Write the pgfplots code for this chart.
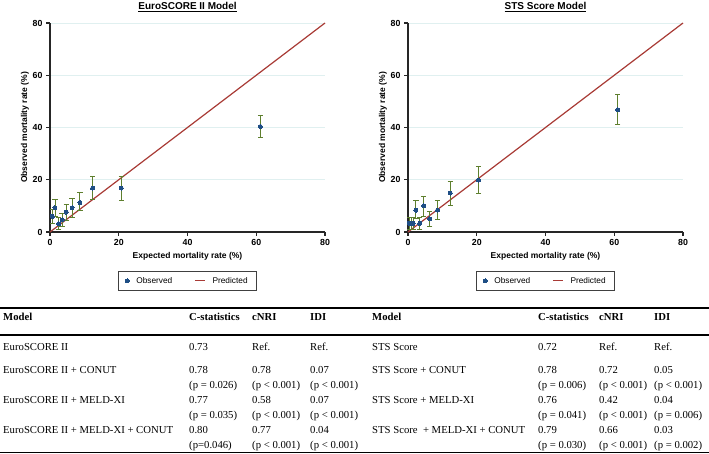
\documentclass[border=0pt]{standalone}
\usepackage{pgfplots}
\pgfplotsset{compat=1.18}
\usepackage{pgfplotstable}
\usepackage{fontspec}
\setmainfont{Liberation Serif}
\setsansfont{Liberation Sans}
\definecolor{obsblue}{HTML}{1F4E85}
\definecolor{predred}{HTML}{A83A35}
\definecolor{errgreen}{HTML}{5E7F2E}
\definecolor{gridc}{HTML}{E0F0F0}

\pgfplotstableread{
x y ep em
0.7 6.0 2.8 2.8
1.45 9.2 3.4 3.2
2.5 3.1 2.3 2.0
3.5 4.6 2.4 2.6
4.75 7.6 3.1 3.3
6.4 9.2 3.5 3.5
8.7 11.3 3.9 3.0
12.4 16.8 4.6 4.4
20.75 16.8 4.3 4.7
61.2 40.4 4.3 4.2
}\euro

\pgfplotstableread{
x y ep em
0.4 3.3 2.2 2.3
1.0 3.3 2.2 2.3
1.5 3.3 2.2 2.3
2.3 8.3 3.6 3.3
3.4 3.3 2.4 2.3
4.6 10.0 3.7 4.2
6.3 5.0 2.7 3.0
8.6 8.4 3.5 3.7
12.3 14.9 4.6 4.7
20.5 19.9 5.1 5.2
61.0 46.8 5.7 5.8
}\sts

\pgfplotsset{calib/.style={
  scale only axis, width=275pt, height=209pt,
  xmin=0, xmax=80, ymin=0, ymax=80,
  axis x line=bottom, axis y line=left,
  axis line style={-, line width=1.5pt, black!85},
  xtick={0,20,40,60,80}, ytick={0,20,40,60,80},
  minor tick num=0,
  tick align=outside, major tick length=4pt,
  tick style={line width=1.2pt, black!85},
  /pgf/number format/assume math mode=true,
  ticklabel style={font=\sffamily\bfseries\fontsize{8.8}{10}\selectfont},
  ymajorgrids, major grid style={gridc, line width=0.7pt},
  clip=false,
  xlabel={Expected mortality rate (\%)},
  ylabel={Observed mortality rate (\%)},
  label style={font=\sffamily\bfseries\fontsize{8.5}{10}\selectfont},
  x label style={at={(axis description cs:0.5,0)}, anchor=center, yshift=-24pt},
  y label style={at={(axis description cs:-0.091,0.5)}, anchor=center},
  legend columns=2,
  legend style={at={(axis description cs:0.5,-0.234)}, anchor=center,
    draw=black!75, line width=0.8pt, font=\sffamily\fontsize{8.3}{10}\selectfont,
    inner xsep=7pt, inner ysep=3.5pt,
    /tikz/every odd column/.append style={column sep=5pt},
    /tikz/every even column/.append style={column sep=20pt}},
},
obs/.style={only marks, mark=*, mark size=2pt, mark options={obsblue, fill=obsblue, line width=0pt},
    error bars/.cd, y dir=both, y explicit,
    error bar style={errgreen, line width=0.9pt},
    error mark options={errgreen, line width=0.9pt, mark size=2.6pt, rotate=90}},
}
\tikzset{
  tb/.style={anchor=base west, inner sep=0pt, font=\fontsize{10.7}{12}\selectfont},
  th/.style={anchor=base west, inner sep=0pt, font=\bfseries\fontsize{10.7}{12}\selectfont},
  ttl/.style={anchor=center, inner sep=0pt, font=\sffamily\bfseries\fontsize{10}{12}\selectfont},
}

\begin{document}
\begin{tikzpicture}[x=1pt,y=1pt]
\useasboundingbox (0,0) rectangle (709,454);

\begin{axis}[calib, at={(50pt,222pt)}, anchor=south west]
\addplot[predred, line width=1.2pt, forget plot] coordinates {(0,0) (80,80)};
\addplot[obs] table[x=x, y=y, y error plus=ep, y error minus=em] {\euro};
\addlegendentry{Observed}
\addlegendimage{legend image code/.code={\draw[predred, line width=1.2pt] (0pt,0pt) -- (10pt,0pt);}}
\addlegendentry{Predicted}
\end{axis}

\begin{axis}[calib, at={(408pt,222pt)}, anchor=south west]
\addplot[predred, line width=1.2pt, forget plot] coordinates {(0,0) (80,80)};
\addplot[obs] table[x=x, y=y, y error plus=ep, y error minus=em] {\sts};
\addlegendentry{Observed}
\addlegendimage{legend image code/.code={\draw[predred, line width=1.2pt] (0pt,0pt) -- (10pt,0pt);}}
\addlegendentry{Predicted}
\end{axis}

\node[ttl] at (187.5,454-7) {\underline{EuroSCORE II Model}};
\node[ttl] at (545.5,454-7) {\underline{STS Score Model}};

% table rules
\draw[line width=1.5pt] (0,454-308) -- (709,454-308);
\draw[line width=1.5pt] (0,454-335) -- (709,454-335);
\draw[line width=1.5pt] (0,454-452.5) -- (709,454-452.5);

% left table
\node[th] at (3,454-320.5) {Model};
\node[th] at (189,454-320.5) {C-statistics};
\node[th] at (252,454-320.5) {cNRI};
\node[th] at (310,454-320.5) {IDI};

\node[tb] at (3,454-350.5) {EuroSCORE II};
\node[tb] at (189,454-350.5) {0.73};
\node[tb] at (252,454-350.5) {Ref.};
\node[tb] at (310,454-350.5) {Ref.};

\node[tb] at (3,454-373.5) {EuroSCORE II + CONUT};
\node[tb] at (189,454-373.5) {0.78};
\node[tb] at (252,454-373.5) {0.78};
\node[tb] at (310,454-373.5) {0.07};
\node[tb] at (189,454-388.5) {(p = 0.026)};
\node[tb] at (252,454-388.5) {(p < 0.001)};
\node[tb] at (310,454-388.5) {(p < 0.001)};

\node[tb] at (3,454-403.5) {EuroSCORE II + MELD-XI};
\node[tb] at (189,454-403.5) {0.77};
\node[tb] at (252,454-403.5) {0.58};
\node[tb] at (310,454-403.5) {0.07};
\node[tb] at (189,454-418.5) {(p = 0.035)};
\node[tb] at (252,454-418.5) {(p < 0.001)};
\node[tb] at (310,454-418.5) {(p < 0.001)};

\node[tb] at (3,454-433.5) {EuroSCORE II + MELD-XI + CONUT};
\node[tb] at (189,454-433.5) {0.80};
\node[tb] at (252,454-433.5) {0.77};
\node[tb] at (310,454-433.5) {0.04};
\node[tb] at (189,454-448.5) {(p=0.046)};
\node[tb] at (252,454-448.5) {(p < 0.001)};
\node[tb] at (310,454-448.5) {(p < 0.001)};

% right table
\node[th] at (372,454-320.5) {Model};
\node[th] at (538,454-320.5) {C-statistics};
\node[th] at (599,454-320.5) {cNRI};
\node[th] at (654,454-320.5) {IDI};

\node[tb] at (372,454-350.5) {STS Score};
\node[tb] at (538,454-350.5) {0.72};
\node[tb] at (599,454-350.5) {Ref.};
\node[tb] at (654,454-350.5) {Ref.};

\node[tb] at (372,454-373.5) {STS Score + CONUT};
\node[tb] at (538,454-373.5) {0.78};
\node[tb] at (599,454-373.5) {0.72};
\node[tb] at (654,454-373.5) {0.05};
\node[tb] at (538,454-388.5) {(p = 0.006)};
\node[tb] at (599,454-388.5) {(p < 0.001)};
\node[tb] at (654,454-388.5) {(p < 0.001)};

\node[tb] at (372,454-403.5) {STS Score + MELD-XI};
\node[tb] at (538,454-403.5) {0.76};
\node[tb] at (599,454-403.5) {0.42};
\node[tb] at (654,454-403.5) {0.04};
\node[tb] at (538,454-418.5) {(p = 0.041)};
\node[tb] at (599,454-418.5) {(p < 0.001)};
\node[tb] at (654,454-418.5) {(p = 0.006)};

\node[tb] at (372,454-433.5) {STS Score \ + MELD-XI + CONUT};
\node[tb] at (538,454-433.5) {0.79};
\node[tb] at (599,454-433.5) {0.66};
\node[tb] at (654,454-433.5) {0.03};
\node[tb] at (538,454-448.5) {(p = 0.030)};
\node[tb] at (599,454-448.5) {(p < 0.001)};
\node[tb] at (654,454-448.5) {(p = 0.002)};
\end{tikzpicture}
\end{document}
